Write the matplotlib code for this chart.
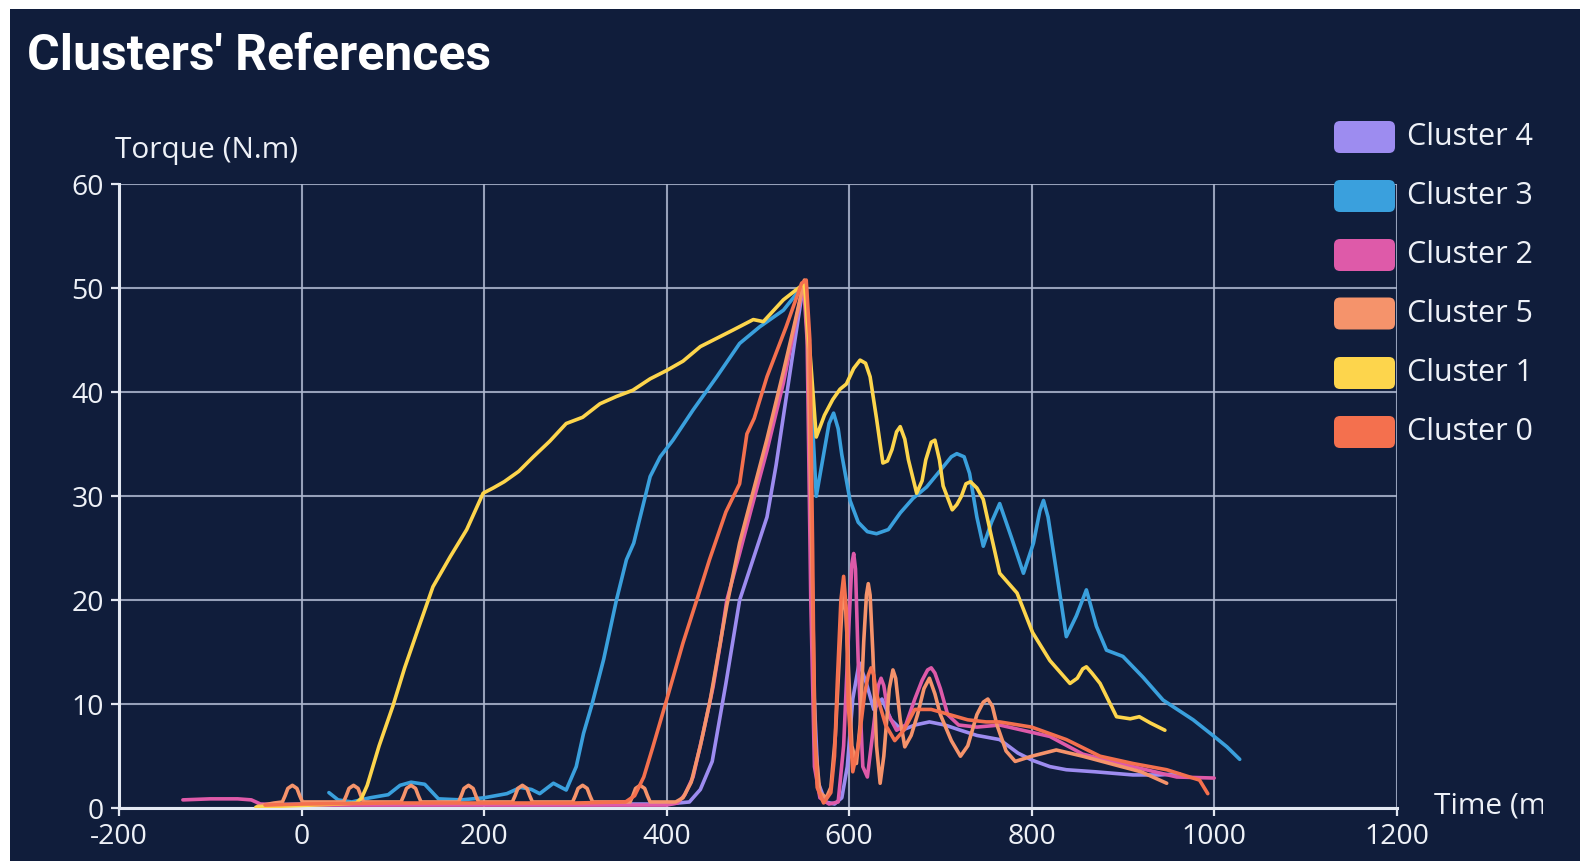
import matplotlib
matplotlib.use("Agg")
import matplotlib.pyplot as plt
from matplotlib.patches import FancyBboxPatch, Rectangle
from matplotlib.transforms import IdentityTransform, Bbox

plt.rcParams["axes.unicode_minus"] = False

# cluster reference curves: time (ms) vs torque (N.m)
c4_x = [-45, 0, 100, 200, 300, 400, 425, 437, 450, 465, 480, 495, 510, 520, 528, 539, 549, 553, 557, 561, 566,
        574, 584, 592, 598, 604, 611, 619, 627, 636, 646, 658, 672, 688, 705, 722, 740, 765, 785, 801, 820, 838,
        870, 911, 940, 962]
c4_y = [0.3, 0.4, 0.4, 0.4, 0.4, 0.4, 0.6, 1.8, 4.5, 12.0, 20.0, 24.0, 28.0, 33.0, 37.7, 44.1, 49.8, 50.3, 38.0,
        12.0, 2.5, 0.6, 0.4, 1.0, 4.0, 10.5, 14.0, 12.0, 9.5, 10.5, 8.5, 7.5, 8.0, 8.3, 8.0, 7.5, 7.0, 6.6, 5.3,
        4.6, 4.0, 3.7, 3.5, 3.2, 3.2, 3.3]

c3_x = [30, 40, 55, 75, 95, 108, 120, 135, 150, 175, 200, 225, 240, 252, 261, 276, 290, 301, 309, 318, 331, 345,
        356, 364, 382, 393, 407, 429, 455, 480, 502, 528, 547, 551, 557, 564, 573, 578, 583, 588, 592, 601, 610,
        620, 630, 643, 656, 670, 685, 700, 712, 718, 726, 732, 740, 747, 756, 765, 778, 791, 802, 809, 813, 818,
        825, 838, 849, 860, 871, 882, 900, 922, 944, 977, 1000, 1014, 1028]
c3_y = [1.5, 0.8, 0.6, 1.0, 1.3, 2.2, 2.5, 2.3, 0.9, 0.8, 1.0, 1.4, 2.0, 1.8, 1.4, 2.4, 1.75, 4.0, 7.2, 9.9,
        14.3, 20.0, 23.9, 25.5, 31.9, 33.8, 35.4, 38.3, 41.5, 44.7, 46.3, 47.9, 50.0, 50.5, 42.0, 30.0, 34.5,
        37.0, 38.0, 36.5, 34.0, 29.6, 27.5, 26.6, 26.4, 26.8, 28.4, 29.8, 30.9, 32.5, 33.8, 34.1, 33.8, 32.2,
        28.0, 25.2, 27.5, 29.3, 26.0, 22.6, 25.5, 28.6, 29.6, 28.0, 24.0, 16.5, 18.5, 21.0, 17.5, 15.2, 14.6,
        12.6, 10.4, 8.5, 6.9, 5.9, 4.7]

c2_x = [-130, -100, -70, -55, -45, 0, 100, 200, 300, 400, 412, 420, 429, 440, 451, 459, 466, 480, 492, 510, 528,
        539, 550, 554, 558, 562, 568, 578, 588, 594, 600, 603, 605, 607, 610, 615, 620, 627, 632, 635, 638, 643,
        652, 662, 672, 680, 686, 690, 694, 700, 708, 720, 740, 765, 790, 820, 856, 911, 959, 1000]
c2_y = [0.8, 0.9, 0.9, 0.8, 0.4, 0.3, 0.3, 0.3, 0.3, 0.3, 0.5, 1.3, 3.0, 7.2, 11.7, 15.9, 20.0, 24.5, 28.5,
        34.4, 40.9, 45.7, 50.5, 45.0, 20.0, 4.0, 1.0, 0.4, 0.6, 6.0, 18.0, 23.5, 24.5, 23.0, 14.0, 4.0, 3.0, 8.0,
        11.8, 12.5, 11.8, 9.0, 7.5, 8.0, 10.5, 12.3, 13.3, 13.5, 13.0, 11.5, 9.0, 8.0, 7.8, 8.0, 7.5, 6.9, 5.2,
        4.0, 3.0, 2.9]

c5_x = [-48, -30, -21, -18, -15, -10, -5, -2, 1, 10, 46, 49, 52, 57, 62, 65, 68, 109, 112, 115, 120, 125, 128,
        131, 172, 175, 178, 183, 188, 191, 194, 231, 234, 237, 242, 247, 250, 253, 297, 300, 303, 308, 313, 316,
        319, 360, 363, 366, 371, 376, 379, 382, 400, 410, 418, 427, 437, 448, 458, 466, 480, 492, 510, 528, 540,
        551, 555, 559, 563, 568, 575, 580, 585, 589, 592, 594, 596, 598, 603, 608, 612, 616, 619, 621, 623, 626,
        630, 634, 638, 644, 648, 651, 656, 661, 668, 675, 682, 688, 694, 700, 712, 722, 730, 740, 747, 752, 757,
        762, 772, 782, 800, 827, 856, 890, 920, 948]
c5_y = [0.2, 0.5, 0.6, 1.2, 1.9, 2.2, 1.9, 1.2, 0.6, 0.6, 0.6, 1.2, 1.9, 2.2, 1.9, 1.2, 0.6, 0.6, 1.2, 1.9, 2.2,
        1.9, 1.2, 0.6, 0.6, 1.2, 1.9, 2.2, 1.9, 1.2, 0.6, 0.6, 1.2, 1.9, 2.2, 1.9, 1.2, 0.6, 0.6, 1.2, 1.9, 2.2,
        1.9, 1.2, 0.6, 0.6, 1.2, 1.9, 2.2, 1.9, 1.2, 0.6, 0.6, 0.6, 1.0, 2.5, 6.0, 10.5, 15.5, 19.5, 25.5, 29.5,
        35.5, 42.0, 46.5, 50.8, 44.0, 25.0, 6.0, 1.5, 1.0, 2.0, 7.0, 14.0, 19.0, 20.5, 19.5, 16.0, 6.0, 4.3, 8.0,
        16.0, 20.5, 21.6, 20.5, 15.0, 6.0, 2.4, 5.0, 11.5, 13.3, 12.5, 8.5, 5.9, 7.0, 9.0, 11.5, 12.5, 11.0, 9.0,
        6.5, 5.0, 6.0, 9.0, 10.2, 10.5, 9.8, 8.0, 5.5, 4.5, 5.0, 5.6, 5.0, 4.2, 3.5, 2.4]

c1_x = [-50, -20, 10, 40, 60, 66, 72, 85, 100, 113, 126, 144, 163, 181, 199, 210, 222, 238, 254, 272, 290, 308,
        327, 345, 363, 382, 400, 418, 437, 455, 473, 495, 506, 528, 547, 551, 557, 564, 573, 582, 590, 597, 605,
        612, 618, 623, 630, 637, 642, 647, 652, 656, 661, 665, 674, 680, 684, 690, 694, 699, 703, 713, 718, 723,
        728, 733, 740, 747, 755, 765, 784, 801, 820, 842, 850, 856, 860, 866, 875, 893, 908, 918, 930, 946]
c1_y = [0.1, 0.2, 0.3, 0.4, 0.5, 1.0, 2.2, 6.0, 9.8, 13.5, 16.8, 21.3, 24.2, 26.8, 30.3, 30.8, 31.4, 32.4, 33.8,
        35.3, 37.0, 37.6, 38.9, 39.6, 40.2, 41.3, 42.1, 43.0, 44.4, 45.2, 46.0, 47.0, 46.8, 48.9, 50.2, 50.6,
        44.0, 35.7, 37.8, 39.3, 40.3, 40.8, 42.3, 43.1, 42.8, 41.5, 37.5, 33.2, 33.4, 34.5, 36.2, 36.7, 35.5,
        33.5, 30.3, 31.5, 33.5, 35.2, 35.4, 33.5, 31.0, 28.7, 29.2, 30.0, 31.2, 31.4, 30.8, 29.7, 26.5, 22.6,
        20.7, 16.9, 14.2, 12.0, 12.5, 13.4, 13.6, 13.0, 12.0, 8.8, 8.6, 8.8, 8.2, 7.5]

c0_x = [-40, 0, 100, 200, 300, 355, 365, 375, 385, 400, 418, 433, 447, 465, 480, 488, 496, 510, 531, 548, 553,
        557, 560, 562, 565, 572, 580, 584, 587, 591, 594, 597, 599, 604, 610, 617, 621, 624, 627, 630, 640, 650,
        660, 672, 690, 710, 730, 750, 765, 800, 838, 875, 911, 948, 984, 993]
c0_y = [0.3, 0.4, 0.5, 0.5, 0.5, 0.6, 1.2, 3.0, 5.9, 10.4, 15.9, 20.0, 23.9, 28.5, 31.2, 36.0, 37.5, 41.5,
        46.3, 50.5, 50.8, 45.0, 25.0, 8.0, 2.0, 0.5, 1.5, 5.0, 12.0, 20.0, 22.3, 19.0, 10.0, 3.5, 6.0, 11.0, 12.8,
        13.5, 12.8, 11.0, 8.0, 6.5, 7.5, 9.5, 9.5, 9.0, 8.5, 8.3, 8.3, 7.8, 6.6, 5.0, 4.3, 3.7, 2.7, 1.4]

labels = ["Cluster 4", "Cluster 3", "Cluster 2", "Cluster 5", "Cluster 1", "Cluster 0"]
colors = ["#9d8cf0", "#3aa0dd", "#de5aa9", "#f5936b", "#fdd54c", "#f4704e"]
series = [(c4_x, c4_y), (c3_x, c3_y), (c2_x, c2_y), (c5_x, c5_y), (c1_x, c1_y), (c0_x, c0_y)]

x_ticks = [-200, 0, 200, 400, 600, 800, 1000, 1200]
y_ticks = [0, 10, 20, 30, 40, 50, 60]

bg = "#101d3b"
grid_col = "#aeb8d0"
axis_col = "#e3e8f2"
text_col = "#eef1f7"

W, H = 1580, 861
fig = plt.figure(figsize=(W / 100, H / 100), dpi=100, facecolor="white")
fig.add_artist(Rectangle((10 / W, 0), 1, (H - 9) / H, transform=fig.transFigure,
                         facecolor=bg, edgecolor="none", zorder=-10))

ax = fig.add_axes([119 / W, (H - 808.2) / H, 1277.7 / W, 623.8 / H])
ax.patch.set_alpha(0)

for (xs, ys), col in zip(series, colors):
    ax.plot(xs, ys, color=col, lw=2.6, solid_joinstyle="round", solid_capstyle="round", zorder=3)

ax.set_xlim(-200, 1200)
ax.set_ylim(0, 60)
ax.set_xticks(x_ticks)
ax.set_yticks(y_ticks)
ax.grid(True, color=grid_col, lw=1.5, alpha=0.85, zorder=1)
for side in ["top", "right"]:
    ax.spines[side].set_visible(False)
for side in ["left", "bottom"]:
    ax.spines[side].set_color(axis_col)
    ax.spines[side].set_linewidth(2.2)
ax.tick_params(colors=axis_col, length=6, width=1.6, labelsize=20.5, pad=5)
for lab in ax.get_xticklabels() + ax.get_yticklabels():
    lab.set_fontfamily("Open Sans")
    lab.set_color(text_col)

ax.text(-0.003, 1.055, "Torque (N.m)", transform=ax.transAxes, ha="left", va="center",
        fontsize=21.5, color=text_col, family="Open Sans")

# axis name on the right runs past the panel edge and is cut there
tlab = fig.text(1434 / W, (H - 806) / H, "Time (ms)", ha="left", va="center",
                fontsize=21.5, color=text_col, family="Open Sans")
tlab.set_clip_box(Bbox.from_extents(0, 0, 1543, H))
tlab.set_clip_on(True)

fig.text(27 / W, (H - 57) / H, "Clusters' References", ha="left", va="center",
         fontsize=36, fontweight="bold", color="white", family="Roboto")

# legend, drawn in pixel space
row_y = [137, 196, 255, 313.5, 373, 432]
for lab, col, yc in zip(labels, colors, row_y):
    box = FancyBboxPatch((1334, H - yc - 16), 61, 32, boxstyle="round,pad=0,rounding_size=6",
                         transform=IdentityTransform(), facecolor=col, edgecolor="none")
    fig.add_artist(box)
    fig.text(1407 / W, (H - yc) / H, lab, ha="left", va="center", fontsize=22,
             color=text_col, family="Open Sans")

fig.savefig("out.png", dpi=100, facecolor=fig.get_facecolor())
